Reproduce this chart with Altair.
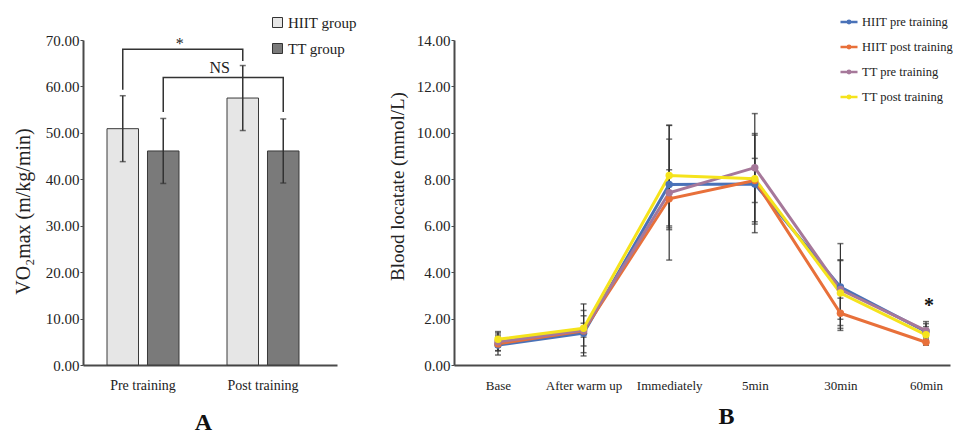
import altair as alt
import pandas as pd

# ---------------- Panel A data ----------------
times_a = ["Pre training", "Post training"]
groups_a = ["HIIT group", "TT group"]
vo2_hiit = [50.9, 57.5]
sd_hiit = [7.1, 7.0]
vo2_tt = [46.1, 46.1]
sd_tt = [7.0, 6.9]
bar_fill = ["#e6e6e6", "#7a7a7a"]

# significance brackets (path vertices: time, value)
br_star_time = ["Pre training", "Pre training", "Post training", "Post training"]
br_star_val = [59.3, 68.0, 68.0, 65.5]
br_ns_time = ["Pre training", "Pre training", "Post training", "Post training"]
br_ns_val = [54.5, 61.9, 61.9, 54.5]

# ---------------- Panel B data ----------------
times_b = ["Base", "After warm up", "Immediately", "5min", "30min", "60min"]
series_b = ["HIIT pre training", "HIIT post training", "TT pre training", "TT post training"]
colors_b = ["#4a72b8", "#e8703a", "#a6789a", "#f5e31c"]
hiit_pre = [0.86, 1.37, 7.78, 7.80, 3.36, 1.44]
hiit_post = [0.91, 1.47, 7.16, 7.95, 2.23, 0.98]
tt_pre = [1.00, 1.50, 7.42, 8.50, 3.25, 1.48]
tt_post = [1.11, 1.58, 8.16, 8.02, 3.10, 1.30]
sd_hiit_pre = [0.43, 0.98, 1.95, 2.10, 1.87, 0.43]
sd_hiit_post = [0.30, 0.65, 1.25, 0.95, 0.65, 0.13]
sd_tt_pre = [0.38, 0.30, 2.90, 2.33, 1.28, 0.30]
sd_tt_post = [0.33, 1.05, 2.17, 1.95, 1.40, 0.35]

FONT = "Liberation Serif"
AX = "#4a4a4a"

# ---------------- Panel A ----------------
rows = []
for i, t in enumerate(times_a):
    rows.append({"time": t, "group": groups_a[0], "v": vo2_hiit[i], "lo": vo2_hiit[i] - sd_hiit[i], "hi": vo2_hiit[i] + sd_hiit[i]})
    rows.append({"time": t, "group": groups_a[1], "v": vo2_tt[i], "lo": vo2_tt[i] - sd_tt[i], "hi": vo2_tt[i] + sd_tt[i]})
dfa = pd.DataFrame(rows)

brk = []
for k, (t, v) in enumerate(zip(br_star_time, br_star_val)):
    brk.append({"time": t, "group": groups_a[0], "v": v, "b": "star", "o": k})
for k, (t, v) in enumerate(zip(br_ns_time, br_ns_val)):
    brk.append({"time": t, "group": groups_a[1], "v": v, "b": "ns", "o": k})
dfbr = pd.DataFrame(brk)

df_star_a = pd.DataFrame([{"time": "Pre training", "group": groups_a[0], "v": 68.0, "label": "*"}])
df_ns_a = pd.DataFrame([{"time": "Post training", "group": groups_a[0], "v": 62.8, "label": "NS"}])

xA = alt.X("time:N", sort=times_a, scale=alt.Scale(paddingInner=0, paddingOuter=0.0583, align=0),
           axis=alt.Axis(title="A", labelAngle=0, labelAlign="center", ticks=False, labelPadding=13,
                         labelFontSize=14, labelColor="#222", titleFontSize=24, titleFontWeight="bold",
                         titlePadding=18, titleX=120, titleColor="#111", domainColor=AX, domainWidth=2))
xoA = alt.XOffset("group:N", sort=groups_a, scale=alt.Scale(paddingInner=0.222, paddingOuter=0.593))
yA_scale = alt.Scale(domain=[0, 70], nice=False)

bars = alt.Chart(dfa).mark_bar(stroke="#3a3a3a", strokeWidth=1).encode(
    x=xA, xOffset=xoA,
    y=alt.Y("v:Q", scale=yA_scale,
            axis=alt.Axis(title="VO₂max (m/kg/min)", values=list(range(0, 71, 10)), format=".2f",
                          grid=False, tickSize=3, tickColor=AX, labelPadding=1, labelFontSize=15,
                          labelColor="#222", titleFontSize=20, titleFontWeight="normal", titlePadding=12,
                          titleY=171, titleColor="#222", domainColor=AX, domainWidth=2)),
    fill=alt.Fill("group:N", scale=alt.Scale(domain=groups_a, range=bar_fill),
                  legend=alt.Legend(title=None, orient="none", legendX=187, legendY=-25,
                                    symbolType="square", symbolSize=100, symbolStrokeColor="#333",
                                    symbolStrokeWidth=1, labelFontSize=15, labelColor="#222",
                                    labelOffset=3, rowPadding=10, padding=0)),
)
xa_plain = alt.X("time:N", sort=times_a)
xo_plain = alt.XOffset("group:N", sort=groups_a)
errA = alt.Chart(dfa).mark_rule(color="#333", strokeWidth=1.5).encode(
    x=xa_plain, xOffset=xo_plain, y="lo:Q", y2="hi:Q")
capA_hi = alt.Chart(dfa).mark_tick(color="#333", size=6, thickness=1.5).encode(
    x=xa_plain, xOffset=xo_plain, y="hi:Q")
capA_lo = alt.Chart(dfa).mark_tick(color="#333", size=6, thickness=1.5).encode(
    x=xa_plain, xOffset=xo_plain, y="lo:Q")
brA = alt.Chart(dfbr).mark_line(color="#333", strokeWidth=1.5).encode(
    x=xa_plain, xOffset=xo_plain, y="v:Q", detail="b:N", order="o:Q")
txtA_star = alt.Chart(df_star_a).mark_text(fontSize=16, color="#222", baseline="alphabetic", dx=57).encode(
    x=xa_plain, xOffset=xo_plain, y="v:Q", text="label:N")
txtA_ns = alt.Chart(df_ns_a).mark_text(fontSize=16, color="#222", baseline="alphabetic", dx=-23).encode(
    x=xa_plain, xOffset=xo_plain, y="v:Q", text="label:N")

panelA = alt.layer(bars, errA, capA_hi, capA_lo, brA, txtA_star, txtA_ns).properties(width=254, height=325)

# ---------------- Panel B ----------------
vals = [hiit_pre, hiit_post, tt_pre, tt_post]
sds = [sd_hiit_pre, sd_hiit_post, sd_tt_pre, sd_tt_post]
rowsb = []
for s, vv, ss in zip(series_b, vals, sds):
    for t, v, e in zip(times_b, vv, ss):
        rowsb.append({"time": t, "series": s, "v": v, "lo": v - e, "hi": v + e})
dfb = pd.DataFrame(rowsb)
dfstar = pd.DataFrame([{"time": "60min", "v": 2.27, "label": "*"}])

# line with a small ring (drawn thick so it looks like a dot)
legend_path = "M-1,0L1,0M-0.14,0A0.14,0.14 0 1,0 0.14,0A0.14,0.14 0 1,0 -0.14,0Z"

xB = alt.X("time:N", sort=times_b, scale=alt.Scale(type="point", padding=0.397, align=0.647),
           axis=alt.Axis(title="B", labelAngle=0, labelAlign="center", ticks=False, labelPadding=20,
                         labelFontSize=13, labelColor="#222", titleFontSize=24, titleFontWeight="bold",
                         titlePadding=12, titleX=272, titleColor="#111", domainColor=AX, domainWidth=2))
yB = alt.Y("v:Q", scale=alt.Scale(domain=[0, 14], nice=False),
           axis=alt.Axis(title="Blood locatate (mmol/L)", values=list(range(0, 15, 2)), format=".2f",
                         grid=False, tickSize=3, tickColor=AX, labelPadding=1, labelFontSize=15,
                         labelColor="#222", titleFontSize=19, titleFontWeight="normal", titlePadding=9,
                         titleY=146, titleColor="#222", domainColor=AX, domainWidth=2))

xb_plain = alt.X("time:N", sort=times_b)
errB = alt.Chart(dfb).mark_rule(color="#333", strokeWidth=1.2).encode(
    x=xb_plain, y="lo:Q", y2="hi:Q")
capB_hi = alt.Chart(dfb).mark_tick(color="#333", size=6, thickness=1.5).encode(
    x=xb_plain, y="hi:Q")
capB_lo = alt.Chart(dfb).mark_tick(color="#333", size=6, thickness=1.5).encode(
    x=xb_plain, y="lo:Q")
lines = alt.Chart(dfb).mark_line(strokeWidth=3).encode(
    x=xB, y=yB,
    color=alt.Color("series:N", sort=series_b, scale=alt.Scale(domain=series_b, range=colors_b),
                    legend=alt.Legend(title=None, orient="none", legendX=385, legendY=-28,
                                      symbolType=legend_path, symbolSize=289, symbolStrokeWidth=2.5,
                                      labelFontSize=12.5, labelColor="#222", labelOffset=3,
                                      rowPadding=8, padding=0)),
    order=alt.Order("series:N"),
)
pts = alt.Chart(dfb).mark_circle(size=55, opacity=1).encode(
    x=xb_plain, y="v:Q",
    color=alt.Color("series:N", sort=series_b, scale=alt.Scale(domain=series_b, range=colors_b), legend=None),
)
starB = alt.Chart(dfstar).mark_text(fontSize=20, fontWeight="bold", color="#111", baseline="alphabetic", dx=3).encode(
    x=xb_plain, y="v:Q", text="label:N")

panelB = alt.layer(errB, capB_hi, capB_lo, lines, pts, starB).properties(width=496, height=325)

chart = alt.hconcat(panelA, panelB, spacing=31).resolve_scale(
    color="independent", fill="independent"
).resolve_legend(color="independent", fill="independent").properties(
    padding={"left": 5, "top": 4, "right": 0, "bottom": 0}
).configure(font=FONT).configure_view(stroke=None).configure_axis(
    labelFont=FONT, titleFont=FONT).configure_legend(labelFont=FONT)

chart.save("out.html", embed_options={"renderer": "svg", "actions": False})
